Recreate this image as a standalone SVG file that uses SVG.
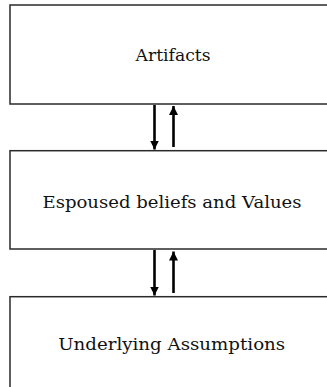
<svg xmlns="http://www.w3.org/2000/svg" width="327" height="387" viewBox="0 0 327 387">
<style>
.box{fill:#fff;stroke:#2a2a2a;stroke-width:1.5}
.lbl{font-family:"DejaVu Serif","Liberation Serif",serif;font-size:16.5px;fill:#111;text-anchor:middle}
.conn{stroke:#000;stroke-width:2.6;fill:none;marker-end:url(#ah)}
</style>
<defs>
<marker id="ah" markerUnits="userSpaceOnUse" markerWidth="9" markerHeight="10" viewBox="0 0 9 10" refX="9" refY="5" orient="auto">
<path d="M0,0.5 L9,5 L0,9.5 Z" fill="#000"/>
</marker>
</defs>
<rect width="327" height="387" fill="#fff"/>
<g id="artifacts">
<rect class="box" x="10" y="5" width="330" height="99"/>
<text class="lbl" x="173" y="61" textLength="75" lengthAdjust="spacingAndGlyphs">Artifacts</text>
</g>
<g id="espoused">
<rect class="box" x="10" y="150.7" width="330" height="98.3"/>
<text class="lbl" x="172" y="208.3" textLength="259" lengthAdjust="spacingAndGlyphs">Espoused beliefs and Values</text>
</g>
<g id="underlying">
<rect class="box" x="10" y="296.7" width="330" height="100"/>
<text class="lbl" x="171.7" y="349.5" textLength="227" lengthAdjust="spacingAndGlyphs">Underlying Assumptions</text>
</g>
<g id="connectors">
<line class="conn" x1="154.5" y1="105" x2="154.5" y2="149.5"/>
<line class="conn" x1="173.5" y1="147" x2="173.5" y2="106"/>
<line class="conn" x1="154.5" y1="250" x2="154.5" y2="295.5"/>
<line class="conn" x1="173.5" y1="293" x2="173.5" y2="251.5"/>
</g>
</svg>
